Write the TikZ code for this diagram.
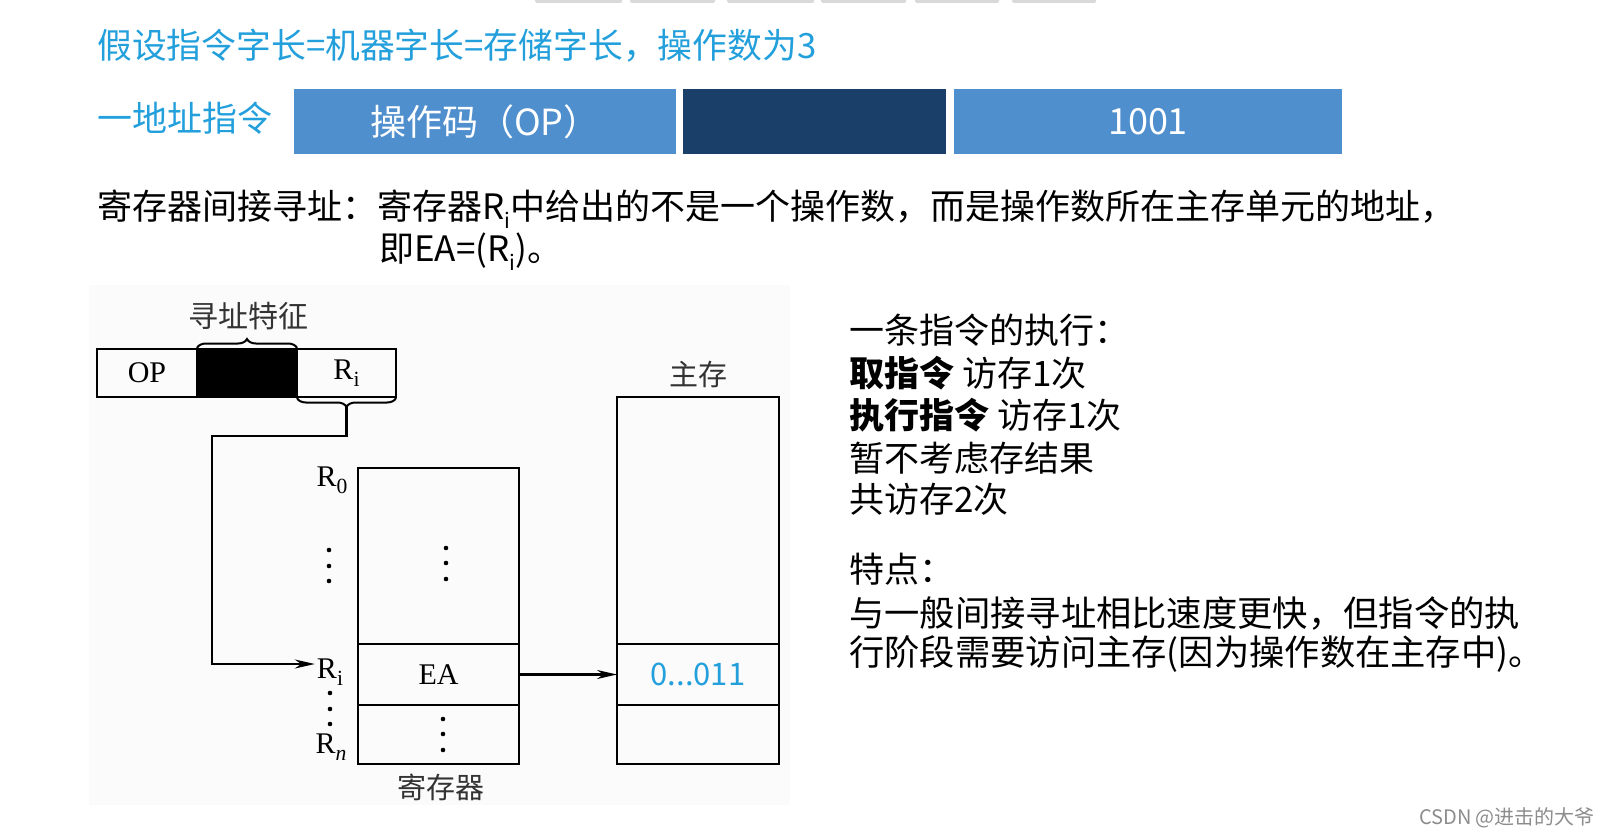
\documentclass[tikz,border=0pt]{standalone}
\usepackage{fontspec}
\usepackage{graphicx}
\setmainfont{Noto Sans CJK SC}
\newfontfamily\serifsong{Liberation Serif}
\usetikzlibrary{arrows.meta,positioning,decorations.pathreplacing,calc}
\definecolor{tblue}{RGB}{35,160,220}
\definecolor{barblue}{RGB}{80,143,206}
\definecolor{barnavy}{RGB}{26,63,104}
\newcommand{\fs}[1]{\fontsize{#1}{#1}\selectfont}
\newcommand{\subsc}[1]{\raisebox{-0.25em}{\scalebox{0.6}{#1}}}
\newcommand{\rsub}[1]{\raisebox{-0.22em}{\scalebox{0.72}{#1}}}

\begin{document}
\begin{tikzpicture}[x=1pt,y=-1pt,
  cell/.style={draw,line width=2.2pt,inner sep=0pt,outer sep=0pt,anchor=north west},
  bar/.style={inner sep=0pt,outer sep=0pt,anchor=north west,text=white,font=\fs{36},minimum height=65pt},
  lbl/.style={inner sep=0pt,font=\serifsong\fs{30}},
  note/.style={inner sep=0pt,anchor=west,font=\fs{35}},
  arr/.style={-{Stealth[length=20pt,width=9pt]},line width=2.2pt},
  brc/.style={decorate,decoration={brace,amplitude=9pt,raise=1pt},line width=2pt}]
  \useasboundingbox (0,0) rectangle (1608,837);
  \fill[black!1.5] (89,285) rectangle (790,805);
  \foreach \a/\b in {535/622,630/715,727/814,821/906,915/999,1012/1096}
    \fill[black!15,rounded corners=1.5pt] (\a,-3) rectangle (\b,3);
  % heading and the one-address instruction
  \node[note,text=tblue,font=\fs{34.8}] (hyp) at (97,46) {假设指令字长=机器字长=存储字长，操作数为3};
  \node[note,text=tblue] (onead) at (97,118) {一地址指令};
  \node[bar,fill=barblue,minimum width=382pt] (opbar) at (294,89) {操作码（OP）};
  \node[bar,fill=barnavy,minimum width=263pt] (modebar) at (683,89) {};
  \node[bar,fill=barblue,minimum width=388pt] (addrbar) at (954,89) {1001};
  \node[note] (defa) at (97,209) {寄存器间接寻址：寄存器R\subsc{i}中给出的不是一个操作数，而是操作数所在主存单元的地址，};
  \node[note] (defb) at (379,252) {即EA=(R\subsc{i})。};
  % instruction format
  \node[cell,lbl,minimum width=100pt,minimum height=48pt] (iop) at (97,349) {OP};
  \node[cell,fill=black,minimum width=100pt,minimum height=48pt] (imode) at (iop.north east) {};
  \node[cell,lbl,minimum width=99pt,minimum height=48pt] (iri) at (imode.north east) {R\rsub{i}};
  \draw[brc] (imode.north west) -- (imode.north east);
  \draw[brc] (iri.south east) -- (iri.south west);
  \node[font=\fs{30},text=black!80] (feat) at (248,316) {寻址特征};
  \coordinate (btip) at ($(iri.south)+(0,10)$);
  \coordinate (bend) at (212,436);
  % registers
  \node[cell,minimum width=161pt,minimum height=176pt] (rtop) at (358,468) {};
  \node[cell,lbl,minimum width=161pt,minimum height=61pt] (rea) at (rtop.south west) {EA};
  \node[cell,minimum width=161pt,minimum height=59pt] (rbot) at (rea.south west) {};
  \node[lbl] (r0lab) at (332,480) {R\rsub{0}};
  \node[lbl] (rilab) at (330,672) {R\rsub{i}};
  \node[lbl] (rnlab) at (331,747) {R\rsub{\itshape n}};
  \node[font=\fs{29},text=black!80] (reglab) at (441,787) {寄存器};
  % main memory
  \node[cell,minimum width=162pt,minimum height=247pt] (mtop) at (617,397) {};
  \node[cell,minimum width=162pt,minimum height=61pt,text=tblue,font=\fs{31}] (mea) at (mtop.south west) {0...011};
  \node[cell,minimum width=162pt,minimum height=59pt] (mbot) at (mea.south west) {};
  \node[font=\fs{29},text=black!80] (memlab) at (698,374) {主存};
  \foreach \x/\y in {329/550,329/566,329/581,446/548,446/563,446/579,
                     330/693,330/709,330/724,443/719,443/734,443/750}
    \fill (\x,\y) circle (2.3pt);
  \draw[arr] (btip) |- (bend) |- ([yshift=8pt,xshift=-2pt]rilab.west);
  \draw[arr] (rea.east) -- (mea.west);
  % notes on the right
  \node[note] (n1) at (849,330) {一条指令的执行：};
  \node[note] (n2) at (849,373) {\textbf{取指令} 访存1次};
  \node[note] (n3) at (849,415) {\textbf{执行指令} 访存1次};
  \node[note] (n4) at (849,458) {暂不考虑存结果};
  \node[note] (n5) at (849,499) {共访存2次};
  \node[note] (n6) at (849,569) {特点：};
  \node[note,font=\fs{35.3}] (n7) at (849,613) {与一般间接寻址相比速度更快，但指令的执};
  \node[note,font=\fs{35.3}] (n8) at (849,654) {行阶段需要访问主存(因为操作数在主存中)。};
  \node[inner sep=0pt,text=black!45,font=\fs{20}] (wm) at (1507,818) {CSDN @进击的大爷};
\end{tikzpicture}
\end{document}
